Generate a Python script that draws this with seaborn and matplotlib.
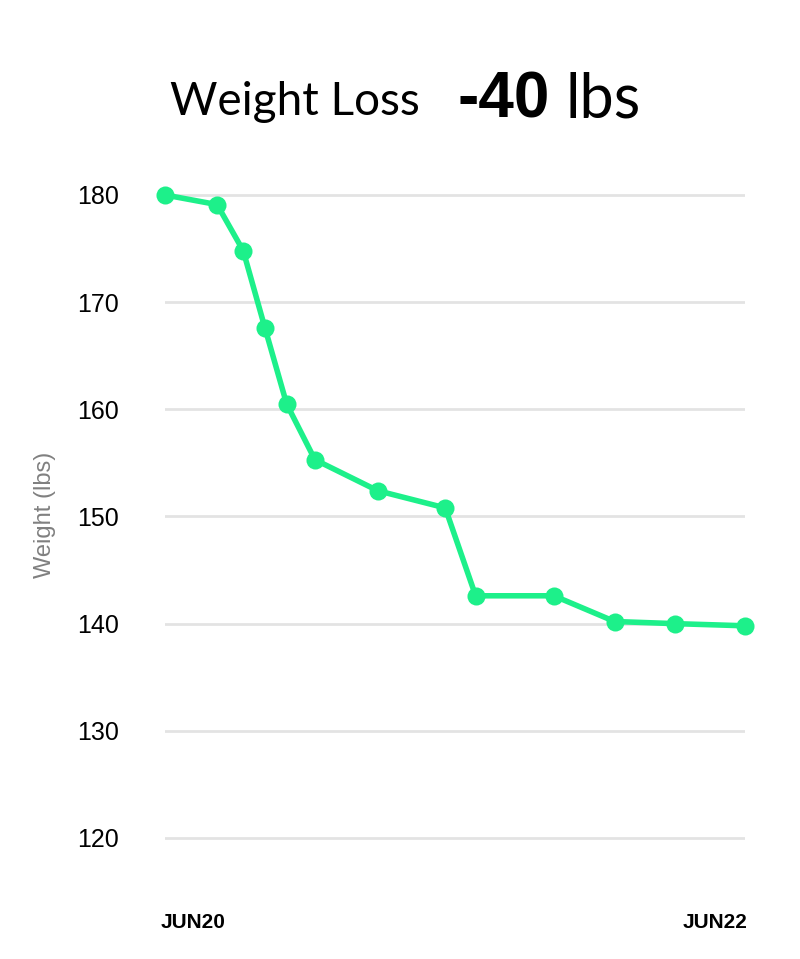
import matplotlib
matplotlib.use("Agg")
import matplotlib.pyplot as plt
import seaborn as sns
import pandas as pd

# months relative to JUN20
months = [-1.3, 1.1, 2.3, 3.3, 4.3, 5.6, 8.5, 11.6, 13.0, 16.6, 19.4, 22.2, 25.4]
weights = [180.0, 179.1, 174.8, 167.6, 160.5, 155.3, 152.4, 150.8, 142.6, 142.6, 140.2, 140.0, 139.8]
tick_pos = [0, 24]
tick_labels = ["JUN20", "JUN22"]
y_ticks = [120, 130, 140, 150, 160, 170, 180]

df = pd.DataFrame({"month": months, "weight": weights})
green = "#1DF08A"

fig = plt.figure(figsize=(8, 9.59), dpi=100)
ax = fig.add_axes([165 / 800, 109 / 959, 580 / 800, 665 / 959])
sns.lineplot(data=df, x="month", y="weight", ax=ax, color=green, linewidth=4,
             marker="o", markersize=13, markeredgewidth=0, clip_on=False)

ax.set_xlim(months[0], months[-1])
ax.set_ylim(118.88, 180.93)
ax.set_yticks(y_ticks)
ax.set_yticklabels([str(v) for v in y_ticks], fontsize=18, family="Liberation Sans")
ax.set_xticks(tick_pos)
ax.set_xticklabels(tick_labels, fontsize=15, fontweight="bold", family="Liberation Sans")
ax.tick_params(axis="x", length=0, pad=45)
ax.tick_params(axis="y", length=0, pad=33)
ax.grid(axis="y", color="#e3e3e3", linewidth=2)
ax.set_axisbelow(True)
for s in ax.spines.values():
    s.set_visible(False)
ax.set_xlabel("")
ax.set_ylabel("")
fig.text(45 / 800, 1 - 515 / 959, "Weight (lbs)", rotation=90, va="center", ha="center",
         fontsize=17, color="#808080", family="Liberation Sans")

# title pieces
fig.text(170 / 800, 1 - 102 / 959, "Weight Loss", fontsize=33, ha="left", va="center",
         family="Lato")
fig.text(458 / 800, 1 - 100 / 959, "-40", fontsize=46, fontweight="bold", ha="left",
         va="center", family="Liberation Sans")
fig.text(566 / 800, 1 - 100 / 959, "lbs", fontsize=44, fontweight="normal", ha="left",
         va="center", family="Lato", color="black")

fig.savefig("out.png", dpi=100)
